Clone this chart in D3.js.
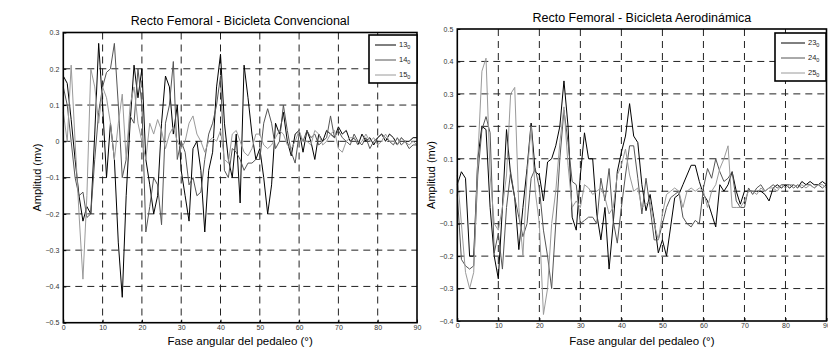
<!DOCTYPE html>
<html>
<head>
<meta charset="utf-8">
<script src="https://cdn.jsdelivr.net/npm/d3@7"></script>
<style>
  body { margin: 0; background: #fff; }
  svg { display: block; font-family: "Liberation Sans", Arial, sans-serif; }
</style>
</head>
<body>
<div id="chart"></div>
<script>
// x positions: pedal angle, one sample per degree
const angles = [0,1,2,3,4,5,6,7,8,9,10,11,12,13,14,15,16,17,18,19,20,21,22,23,24,25,26,27,28,29,30,
  31,32,33,34,35,36,37,38,39,40,41,42,43,44,45,46,47,48,49,50,51,52,53,54,55,56,57,58,59,60,
  61,62,63,64,65,66,67,68,69,70,71,72,73,74,75,76,77,78,79,80,81,82,83,84,85,86,87,88,89,90];

// Bicicleta Convencional
const conv13 = [0.18,0.16,0.06,-0.05,-0.15,-0.22,-0.18,-0.20,0.02,0.27,0.10,-0.10,0.05,-0.05,-0.28,-0.43,
  -0.15,0.05,0.21,0.12,0.20,-0.05,-0.12,-0.20,-0.15,0.05,0.18,0.15,0.02,0.10,-0.08,-0.15,-0.22,-0.02,0.00,
  -0.08,-0.25,-0.08,-0.03,0.15,0.24,0.05,-0.05,-0.10,0.02,-0.17,0.21,0.12,0.02,-0.05,-0.02,-0.10,-0.20,
  -0.12,0.05,0.02,0.08,0.00,-0.04,0.02,0.03,-0.03,0.03,0.00,-0.05,0.02,0.00,0.03,0.02,0.01,0.04,0.02,0.03,
  0.00,0.01,-0.01,0.02,0.00,0.01,-0.01,0.01,0.02,0.00,0.02,0.01,-0.01,0.01,0.00,0.00,0.01,0.01];
const conv14 = [0.15,0.10,0.00,-0.10,-0.15,-0.14,-0.21,-0.20,-0.05,0.08,0.15,0.19,0.20,0.27,0.10,-0.10,
  -0.05,0.07,0.05,0.20,0.10,-0.25,-0.18,-0.10,-0.12,-0.23,0.05,0.10,0.22,-0.05,0.00,-0.03,-0.12,-0.10,-0.15,
  -0.14,-0.05,0.02,0.05,0.10,0.18,-0.08,-0.10,-0.02,-0.03,-0.05,-0.08,-0.06,-0.06,-0.05,-0.05,0.05,0.09,
  0.05,-0.02,0.00,0.10,0.03,-0.03,-0.06,0.02,0.00,0.03,0.01,0.02,-0.01,0.00,0.01,0.07,0.01,0.03,0.01,0.00,
  -0.01,0.02,0.00,-0.01,0.01,-0.02,0.00,0.01,0.02,0.01,0.00,-0.01,0.01,-0.01,0.00,-0.02,-0.01,-0.01];
const conv15 = [0.08,0.00,0.21,0.00,-0.20,-0.38,-0.15,0.20,0.15,0.05,0.15,0.12,0.05,-0.05,0.05,0.13,
  -0.05,0.10,0.15,0.05,0.00,-0.05,0.05,0.02,0.06,0.03,-0.02,0.02,0.04,0.00,-0.02,0.00,0.05,0.07,0.02,0.00,
  -0.03,0.00,0.01,0.00,0.03,-0.05,-0.06,0.02,0.03,0.00,-0.03,-0.04,-0.02,0.02,0.02,-0.01,-0.02,-0.01,0.01,
  0.03,0.02,-0.01,-0.02,0.00,0.03,0.00,0.00,-0.01,0.03,0.02,-0.01,0.00,0.02,0.03,-0.02,-0.03,0.00,0.01,
  0.01,-0.01,0.00,0.02,0.00,0.01,-0.01,0.00,0.02,0.00,0.00,-0.01,0.01,0.00,-0.01,0.00,-0.01];

// Bicicleta Aerodinámica
const aero23 = [0.02,0.06,0.04,-0.20,-0.20,0.10,0.20,0.19,-0.05,-0.20,-0.27,-0.05,0.19,0.05,-0.02,-0.18,
  -0.05,0.07,0.21,0.06,0.05,-0.03,0.09,0.10,0.14,0.20,0.34,0.20,-0.08,-0.12,0.05,0.18,0.10,0.10,-0.07,-0.15,
  -0.05,-0.24,-0.10,0.06,0.12,0.17,0.27,0.17,0.15,0.02,-0.06,-0.01,-0.09,-0.19,-0.15,-0.20,-0.11,-0.02,
  -0.01,0.02,0.05,0.08,0.08,0.03,-0.01,-0.03,-0.07,-0.11,0.02,0.00,0.02,0.06,0.00,-0.04,0.00,0.00,0.00,
  0.00,0.00,-0.01,-0.03,0.01,0.02,0.01,0.02,0.01,0.02,0.01,0.03,0.02,0.03,0.02,0.02,0.03,0.02];
const aero24 = [-0.01,-0.21,-0.23,-0.24,-0.23,0.05,0.19,0.23,0.18,-0.19,-0.13,-0.24,-0.05,0.06,-0.02,
  -0.08,-0.14,-0.10,0.04,0.07,0.01,-0.12,-0.20,-0.30,-0.10,0.10,0.25,0.15,0.03,0.02,-0.10,-0.09,-0.08,-0.08,
  -0.10,0.04,-0.03,0.07,-0.09,-0.16,-0.05,0.05,0.14,0.14,0.04,-0.07,0.04,-0.05,-0.15,-0.15,-0.10,-0.05,
  -0.02,-0.01,0.00,-0.08,-0.10,-0.11,-0.09,-0.10,0.01,0.07,0.04,0.10,0.06,0.03,0.04,0.06,-0.03,-0.05,-0.05,
  0.01,-0.01,0.01,0.02,0.00,0.01,0.02,0.01,0.02,0.02,0.02,0.01,0.02,0.01,0.02,0.02,0.01,0.02,0.01,0.02];
const aero25 = [0.05,-0.10,-0.25,-0.30,-0.25,0.10,0.37,0.41,0.05,-0.10,-0.12,-0.05,0.05,0.30,0.32,-0.05,
  -0.20,0.05,0.20,0.00,-0.10,-0.38,-0.30,-0.10,0.00,0.15,0.26,0.08,-0.05,-0.03,-0.05,0.02,0.01,-0.01,0.00,
  0.01,-0.02,-0.07,-0.05,0.05,0.08,0.13,0.05,0.00,0.01,-0.05,-0.04,-0.03,-0.10,-0.15,-0.07,-0.01,0.00,0.01,
  0.00,-0.05,0.00,0.01,0.00,0.01,0.00,-0.05,0.00,0.02,0.07,0.10,0.14,-0.05,-0.05,-0.05,-0.03,0.00,0.00,
  -0.01,0.01,0.00,0.01,0.01,0.00,0.02,0.01,0.02,0.02,0.01,0.02,0.01,0.02,0.01,0.02,0.02,0.01];

const xTicks = [0,10,20,30,40,50,60,70,80,90];
const convYTicks = [-0.5,-0.4,-0.3,-0.2,-0.1,0,0.1,0.2,0.3];
const aeroYTicks = [-0.4,-0.3,-0.2,-0.1,0,0.1,0.2,0.3,0.4,0.5];
const colors = ['#000000', '#555555', '#9a9a9a'];

const svg = d3.select('#chart').append('svg').attr('width', 828).attr('height', 349);

function drawPanel(p) {
  const x = d3.scaleLinear().domain([0, 90]).range([p.left, p.right]);
  const y = d3.scaleLinear().domain(p.yDomain).range([p.bottom, p.top]);
  const g = svg.append('g');

  // grid
  g.selectAll('.vg').data(xTicks.slice(1, -1)).join('line')
    .attr('x1', d => x(d)).attr('x2', d => x(d))
    .attr('y1', p.top).attr('y2', p.bottom)
    .attr('stroke', '#222').attr('stroke-width', 1).attr('stroke-dasharray', '7,5');
  g.selectAll('.hg').data(p.yTicks.slice(1, -1)).join('line')
    .attr('x1', p.left).attr('x2', p.right)
    .attr('y1', d => y(d)).attr('y2', d => y(d))
    .attr('stroke', '#222').attr('stroke-width', 1).attr('stroke-dasharray', '7,5');

  // series
  const line = d3.line().x((d, i) => x(angles[i])).y(d => y(d));
  p.series.forEach((s, i) => {
    g.append('path').datum(s.values)
      .attr('fill', 'none').attr('stroke', colors[i]).attr('stroke-width', 1)
      .attr('stroke-linejoin', 'round')
      .attr('d', line);
  });

  // axes (ticks inside, like matlab)
  const ax = g.append('g').attr('transform', `translate(0,${p.bottom})`)
    .call(d3.axisBottom(x).tickValues(xTicks).tickSize(-3).tickPadding(2).tickFormat(d3.format('d')));
  const ay = g.append('g').attr('transform', `translate(${p.left},0)`)
    .call(d3.axisLeft(y).tickValues(p.yTicks).tickSize(-3).tickPadding(4).tickFormat(d => d === 0 ? '0' : d3.format('.1f')(d)));
  [ax, ay].forEach(a => {
    a.select('.domain').remove();
    a.selectAll('text').attr('font-size', 7).attr('fill', '#333').attr('font-family', '"Liberation Sans", Arial, sans-serif');
    a.selectAll('line').attr('stroke', '#000');
  });

  // box
  g.append('rect').attr('x', p.left).attr('y', p.top)
    .attr('width', p.right - p.left).attr('height', p.bottom - p.top)
    .attr('fill', 'none').attr('stroke', '#000').attr('stroke-width', 1.6);

  // title & labels
  g.append('text').attr('x', (p.left + p.right) / 2).attr('y', p.titleY)
    .attr('text-anchor', 'middle').attr('font-size', 12.5).text(p.title);
  g.append('text').attr('x', (p.left + p.right) / 2).attr('y', 345)
    .attr('text-anchor', 'middle').attr('font-size', 11.5).text('Fase angular del pedaleo (°)');
  g.append('text').attr('transform', `translate(${p.left - 22},${(p.top + p.bottom) / 2}) rotate(-90)`)
    .attr('text-anchor', 'middle').attr('font-size', 11).text('Amplitud (mv)');

  // legend
  const lg = g.append('g').attr('transform', `translate(${p.legX},${p.legY})`);
  lg.append('rect').attr('width', p.legW).attr('height', 48)
    .attr('fill', '#fff').attr('stroke', '#000').attr('stroke-width', 1.6);
  p.series.forEach((s, i) => {
    const yy = 10 + i * 15;
    lg.append('line').attr('x1', 6).attr('x2', p.legW - 21).attr('y1', yy).attr('y2', yy)
      .attr('stroke', colors[i]).attr('stroke-width', 1);
    const t = lg.append('text').attr('x', p.legW - 18).attr('y', yy + 2).attr('font-size', 7.5).attr('fill', '#222');
    t.append('tspan').text(s.name);
    t.append('tspan').attr('font-size', 5.5).attr('dy', 2).text('0');
  });
}

drawPanel({
  left: 63.3, right: 417, top: 32.5, bottom: 322.7,
  yDomain: [-0.5, 0.3], yTicks: convYTicks,
  title: 'Recto Femoral - Bicicleta Convencional', titleY: 25,
  legX: 369, legY: 35, legW: 48,
  series: [{ name: '13', values: conv13 }, { name: '14', values: conv14 }, { name: '15', values: conv15 }]
});

drawPanel({
  left: 457.3, right: 826.5, top: 29, bottom: 321,
  yDomain: [-0.4, 0.5], yTicks: aeroYTicks,
  title: 'Recto Femoral - Bicicleta Aerodinámica', titleY: 22,
  legX: 775, legY: 33, legW: 51,
  series: [{ name: '23', values: aero23 }, { name: '24', values: aero24 }, { name: '25', values: aero25 }]
});
</script>
</body>
</html>
